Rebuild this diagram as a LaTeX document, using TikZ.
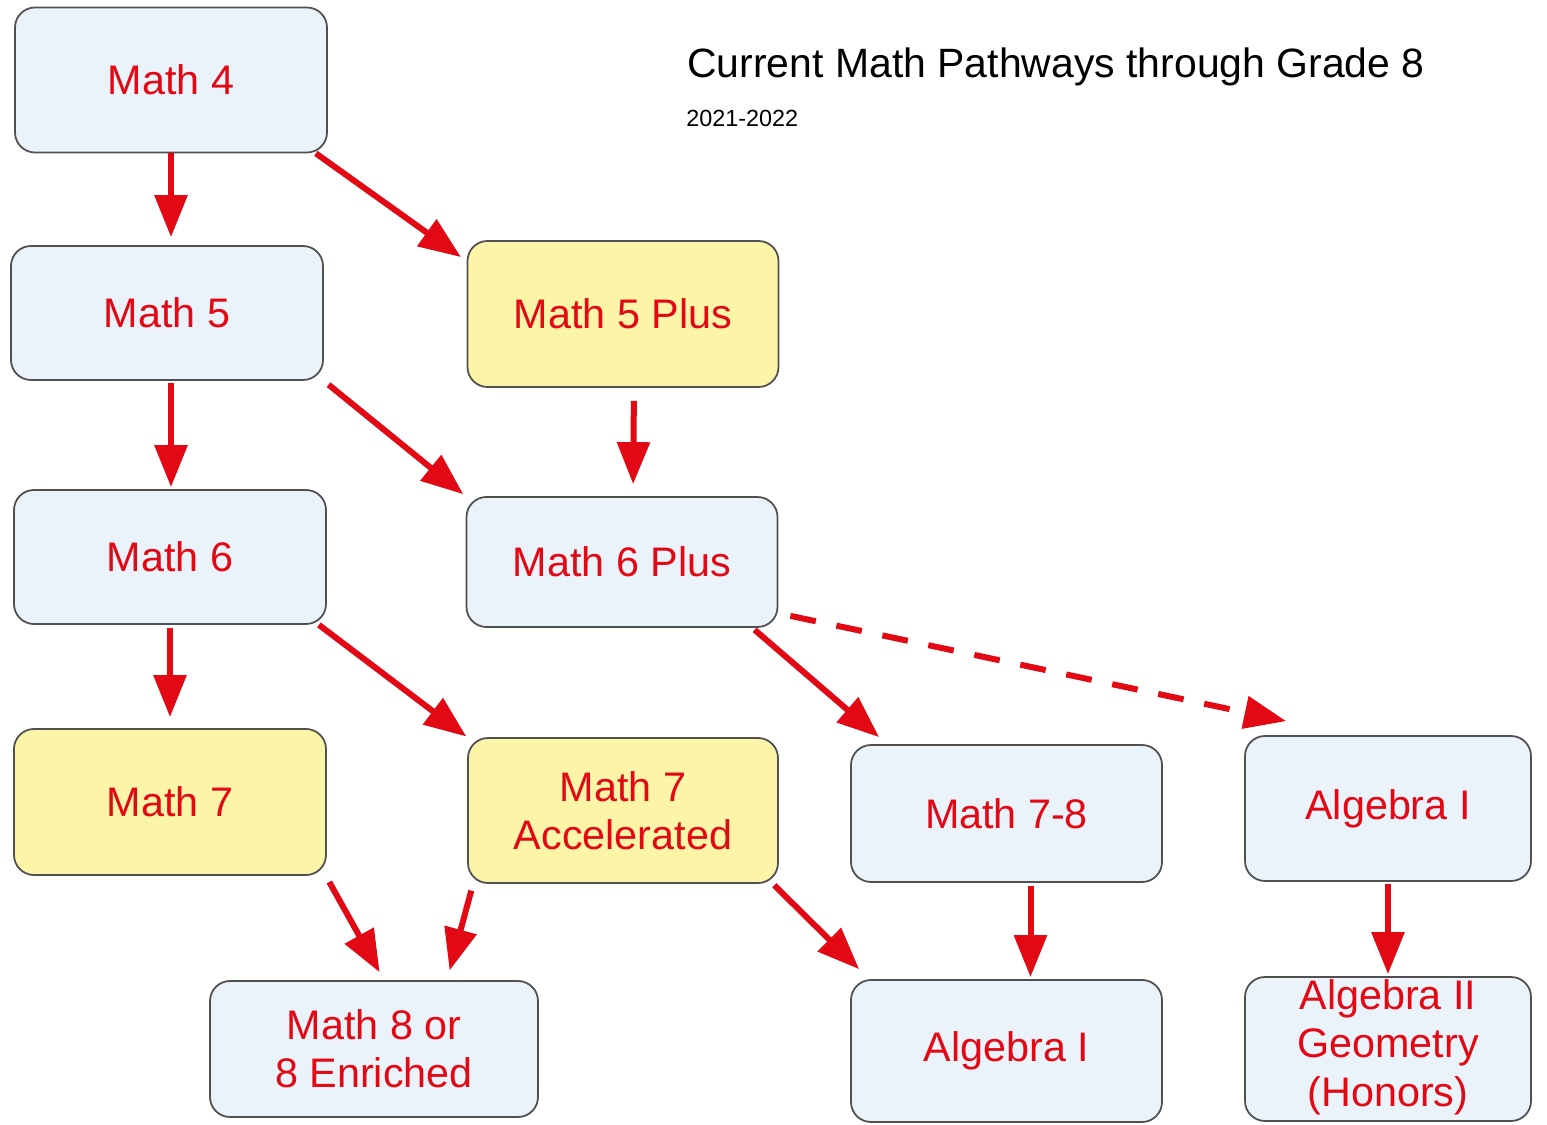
\documentclass[tikz,border=0pt]{standalone}
\usepackage{fontspec}
\setmainfont{Liberation Sans}
\usepackage{xcolor}
\usepackage{tikz}
\usetikzlibrary{arrows.meta, positioning}

\definecolor{pathred}{RGB}{226,8,20}
\definecolor{boxblue}{RGB}{234,242,250}
\definecolor{boxyellow}{RGB}{252,245,168}
\definecolor{boxline}{RGB}{80,80,80}

\begin{document}
\begin{tikzpicture}[>={Triangle[length=0.84cm, width=0.64cm]},
  course/.style={draw=boxline, line width=1pt, fill=boxblue, rounded corners=0.4cm,
    text=pathred, align=center, inner sep=0pt,
    font=\fontsize{23.5}{27.5}\selectfont},
  hilite/.style={course, fill=boxyellow},
  link/.style={->, draw=pathred, line width=0.12cm},
  maybe/.style={link, dash pattern=on 0.52cm off 0.42cm}]
\useasboundingbox (0,0) rectangle (30.94,-22.5);
% Titulo
\node[anchor=base west, inner sep=0pt, font=\fontsize{23.3}{28}\selectfont] (title) at (13.74,-1.56) {Current Math Pathways through Grade 8};
\node[anchor=base west, inner sep=0pt, font=\fontsize{13.3}{16}\selectfont] (year) at (13.72,-2.54) {2021-2022};
% Cursos
\node[course, minimum width=6.24cm, minimum height=2.90cm] (m4) at (3.42,-1.60) {Math 4};
\node[course, minimum width=6.24cm, minimum height=2.68cm] (m5) at (3.34,-6.26) {Math 5};
\node[hilite, minimum width=6.22cm, minimum height=2.92cm] (m5p) at (12.46,-6.28) {Math 5 Plus};
\node[course, minimum width=6.24cm, minimum height=2.68cm] (m6) at (3.40,-11.14) {Math 6};
\node[course, minimum width=6.22cm, minimum height=2.60cm] (m6p) at (12.44,-11.24) {Math 6 Plus};
\node[hilite, minimum width=6.24cm, minimum height=2.92cm] (m7) at (3.40,-16.04) {Math 7};
\node[hilite, minimum width=6.20cm, minimum height=2.90cm] (m7a) at (12.46,-16.21) {Math 7\\Accelerated};
\node[course, minimum width=6.22cm, minimum height=2.74cm] (m78) at (20.13,-16.27) {Math 7-8};
\node[course, minimum width=5.72cm, minimum height=2.90cm] (alg1r) at (27.76,-16.17) {Algebra I};
\node[course, minimum width=6.56cm, minimum height=2.72cm] (m8) at (7.48,-20.98) {Math 8 or\\8 Enriched};
\node[course, minimum width=6.22cm, minimum height=2.84cm] (alg1b) at (20.13,-21.02) {Algebra I};
\node[course, minimum width=5.72cm, minimum height=2.88cm, text depth=0.25cm] (alg2) at (27.76,-20.98) {Algebra II\\Geometry\\(Honors)};
% Caminos
\path
(m4.south) edge[link, shorten >=0.16cm] (m4.south |- m5.north)
([xshift=-0.24cm]m4.south east) edge[link, shorten >=0.14cm] ([yshift=-0.42cm]m5p.north west)
([xshift=0.08cm]m5.south) edge[link, shorten <=0.04cm, shorten >=0.04cm] ([xshift=0.08cm]m5.south |- m6.north)
(m5.south east) edge[link, shorten <=0.12cm, shorten >=0.06cm] (m6p.north west)
([xshift=0.22cm]m5p.south) edge[link, shorten <=0.26cm, shorten >=0.24cm] ([xshift=0.22cm]m6p.north)
(m6.south) edge[link, shorten <=0.06cm, shorten >=0.22cm] (m7.north)
([xshift=-0.16cm]m6.south east) edge[link, shorten >=0.02cm] (m7a.north west)
([xshift=-0.52cm]m6p.south east) edge[link, shorten <=0.06cm] ([xshift=0.58cm, yshift=0.14cm]m78.north west)
([xshift=0.24cm, yshift=0.24cm]m6p.south east) edge[maybe] ([xshift=0.84cm, yshift=0.28cm]alg1r.north west)
([xshift=-0.02cm]m7.south east) edge[link, shorten <=0.14cm, shorten >=0.18cm] ([xshift=0.2cm]m8.north)
([xshift=0.12cm]m7a.south west) edge[link, shorten <=0.14cm, shorten >=0.2cm] ([xshift=1.46cm]m8.north)
([xshift=-0.12cm]m7a.south east) edge[link, shorten <=0.04cm] ([xshift=0.18cm, yshift=0.2cm]alg1b.north west)
([xshift=0.48cm]m78.south) edge[link, shorten <=0.06cm, shorten >=0.04cm] ([xshift=0.48cm]alg1b.north)
(alg1r.south) edge[link, shorten <=0.04cm, shorten >=0.04cm] (alg2.north);
\end{tikzpicture}
\end{document}
